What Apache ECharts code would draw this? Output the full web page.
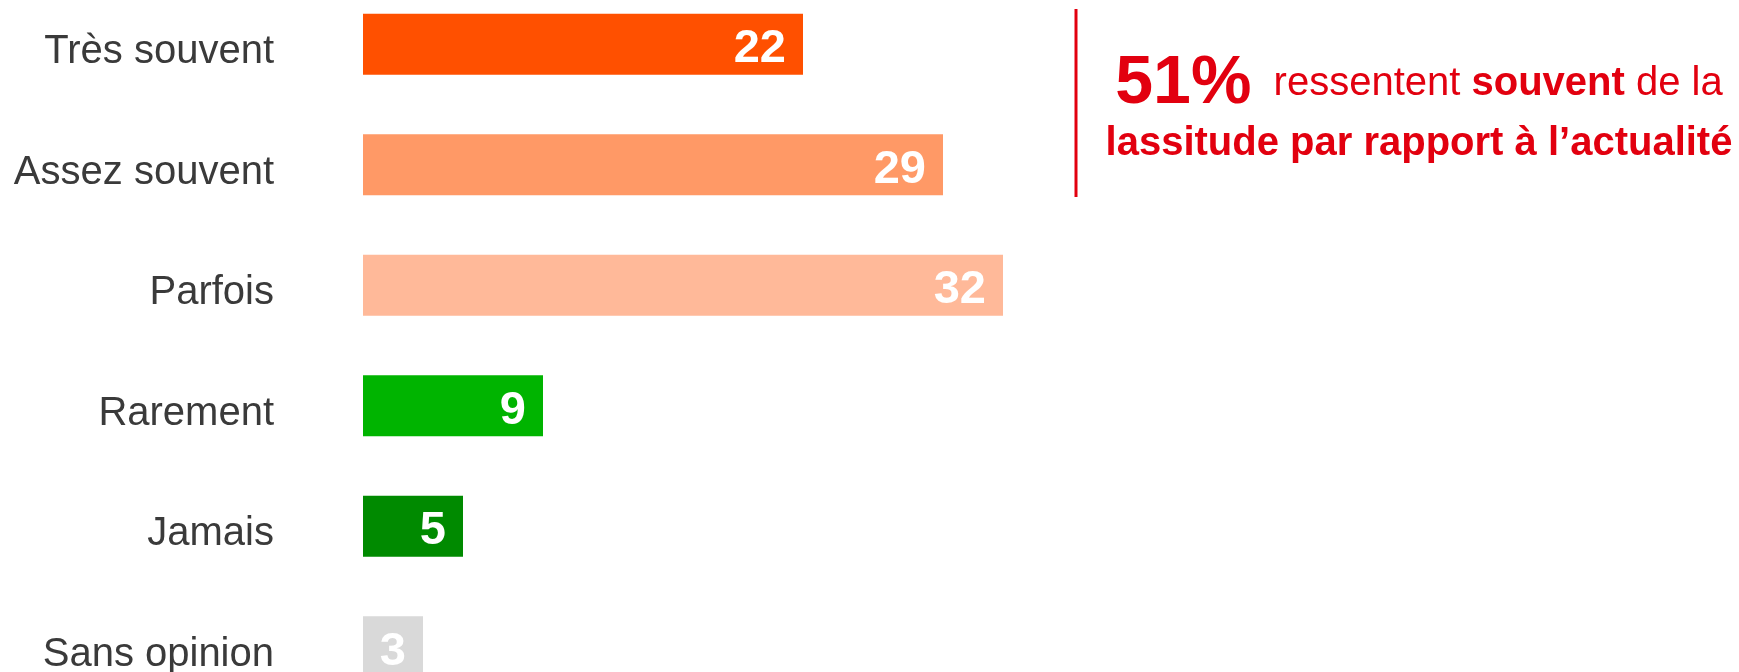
<!DOCTYPE html>
<html>
<head>
<meta charset="utf-8">
<title>Lassitude actualité</title>
<script src="https://cdn.jsdelivr.net/npm/echarts@6/dist/echarts.min.js"></script>
<style>
  html, body { margin: 0; padding: 0; background: #fff; overflow: hidden; width: 1739px; height: 672px; }
  /* le graphique déborde en bas, comme dans l'original */
  #main { position: absolute; left: 0; top: -16px; width: 1739px; height: 723px; }
</style>
</head>
<body>
<div id="main"></div>
<script>
// données
const categories = ['Très souvent', 'Assez souvent', 'Parfois', 'Rarement', 'Jamais', 'Sans opinion'];
const values = [22, 29, 32, 9, 5, 3];
const barColors = ['#FF5000', '#FF9966', '#FFB999', '#00B400', '#008A00', '#D9D9D9'];

const RED = '#E2000F';
const FONT = 'Liberation Sans, Arial, sans-serif';

const chart = echarts.init(document.getElementById('main'), null, { renderer: 'canvas' });

const option = {
  backgroundColor: '#ffffff',
  animation: false,
  grid: {
    left: 363,
    right: 176,
    top: 0,
    bottom: 0,
    containLabel: false
  },
  xAxis: {
    type: 'value',
    min: 0,
    max: 60,
    show: false
  },
  yAxis: {
    type: 'category',
    inverse: true,
    data: categories,
    axisLine: { show: false },
    axisTick: { show: false },
    splitLine: { show: false },
    axisLabel: {
      margin: 89,
      formatter: '{a|{value}}',
      rich: {
        a: {
          padding: [16, 0, 0, 0],
          color: '#3a3a3a',
          fontSize: 40,
          fontFamily: FONT
        }
      }
    }
  },
  series: [
    {
      type: 'bar',
      barWidth: 61,
      data: values.map((v, i) => ({ value: v, itemStyle: { color: barColors[i] } })),
      label: {
        show: true,
        position: 'insideRight',
        distance: 17,
        offset: [0, 5],
        color: '#ffffff',
        fontSize: 47,
        fontWeight: 'bold',
        fontFamily: FONT
      }
    }
  ],
  graphic: [
    {
      type: 'line',
      shape: { x1: 1076, y1: 25, x2: 1076, y2: 213 },
      style: { stroke: RED, lineWidth: 3 }
    },
    {
      type: 'text',
      x: 1419,
      y: 129,
      style: {
        text: '{big|51%}{reg|  ressentent }{b|souvent}{reg| de la}\n{b2|lassitude par rapport à l’actualité}',
        align: 'center',
        verticalAlign: 'middle',
        fill: RED,
        rich: {
          big: { fontSize: 68, fontWeight: 'bold', fill: RED, fontFamily: FONT, lineHeight: 62 },
          reg: { fontSize: 40, fill: RED, fontFamily: FONT, lineHeight: 62 },
          b: { fontSize: 40, fontWeight: 'bold', fill: RED, fontFamily: FONT, lineHeight: 62 },
          b2: { fontSize: 40, fontWeight: 'bold', fill: RED, fontFamily: FONT, lineHeight: 58 }
        }
      }
    }
  ]
};

chart.setOption(option);
</script>
</body>
</html>
